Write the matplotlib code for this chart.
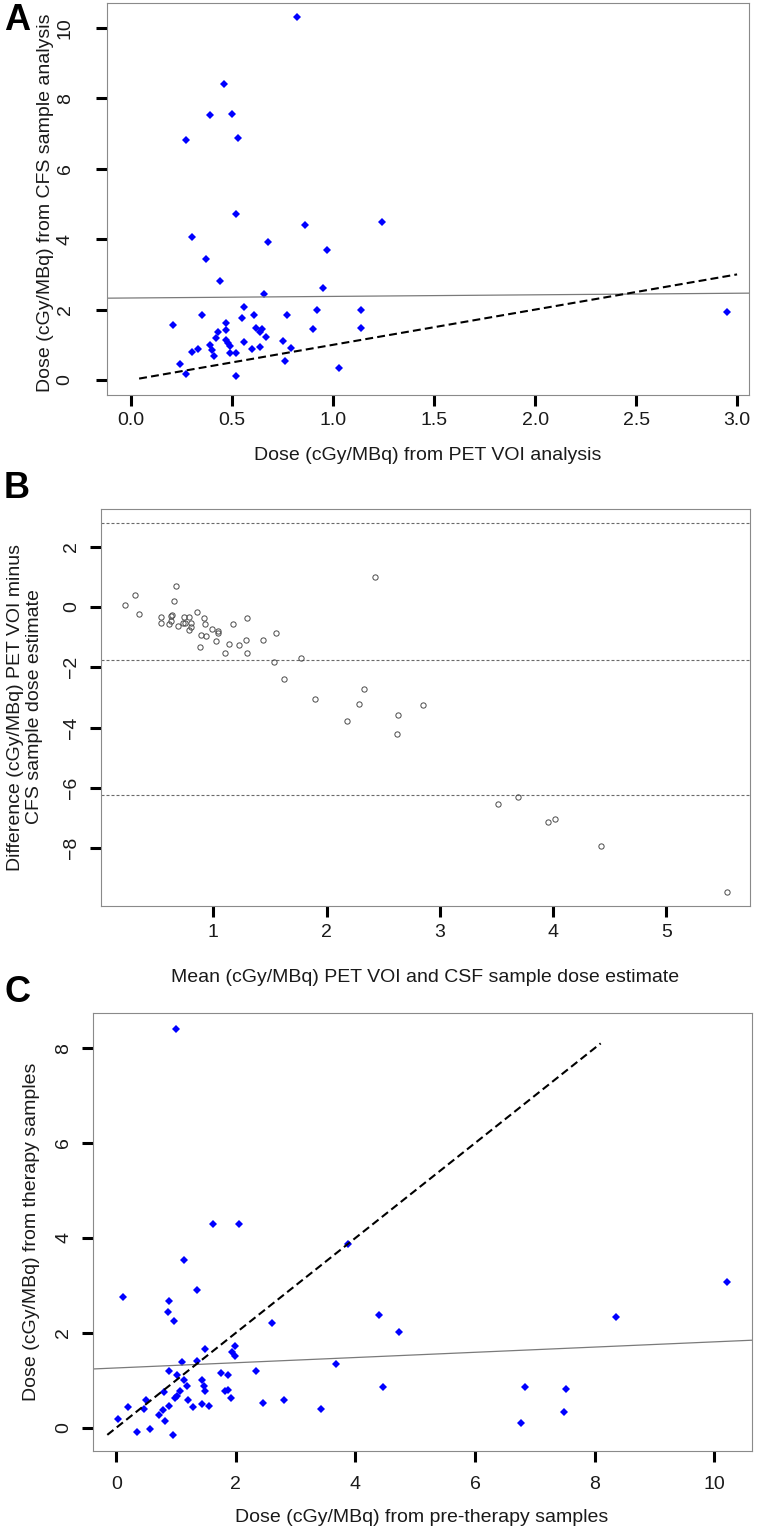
import numpy as np
import matplotlib
matplotlib.use("Agg")
import matplotlib.pyplot as plt

# Panel A: PET VOI dose vs CFS sample dose
pet_A = [0.82, 0.46, 0.39, 0.50, 0.27, 0.53, 0.52, 0.86, 1.24, 0.30,
         0.68, 0.97, 0.37, 0.44, 0.95, 0.66, 0.56, 0.35, 0.61, 0.77,
         0.92, 1.14, 0.21, 0.47, 0.55, 0.43, 0.47, 0.62, 0.65, 0.64,
         0.90, 1.14, 0.42, 0.47, 0.67, 0.75, 0.39, 0.48, 0.56, 0.49,
         0.33, 0.40, 0.60, 0.64, 0.79, 0.30, 0.49, 0.52, 0.41, 0.76,
         0.24, 1.03, 0.27, 0.52, 2.95]
csf_A = [10.3, 8.41, 7.54, 7.56, 6.81, 6.88, 4.73, 4.41, 4.48, 4.06,
         3.92, 3.70, 3.44, 2.81, 2.61, 2.45, 2.06, 1.86, 1.86, 1.84,
         1.98, 1.99, 1.56, 1.61, 1.75, 1.37, 1.41, 1.49, 1.44, 1.35,
         1.44, 1.49, 1.18, 1.15, 1.21, 1.10, 1.00, 1.06, 1.07, 0.97,
         0.89, 0.86, 0.89, 0.94, 0.92, 0.79, 0.77, 0.76, 0.68, 0.55,
         0.45, 0.33, 0.17, 0.11, 1.92]
fit_A = (2.33, 0.045)          # intercept, slope of solid line
ident_A = [0.04, 3.0]          # extent of dashed y = x line

# Panel B: Bland-Altman
mean_B = [0.22, 0.31, 0.34, 0.54, 0.54, 0.61, 0.63, 0.63, 0.64, 0.65,
          0.67, 0.69, 0.74, 0.73, 0.75, 0.79, 0.80, 0.80, 0.79, 0.86,
          0.92, 0.93, 0.89, 0.94, 0.88, 0.99, 1.04, 1.04, 1.02, 1.10,
          1.14, 1.17, 1.23, 1.29, 1.30, 1.30, 1.44, 1.55, 1.54, 1.77,
          1.62, 1.90, 2.43, 2.18, 2.29, 2.33, 2.63, 2.62, 2.85, 3.51,
          3.69, 3.95, 4.02, 4.42, 5.53]
diff_B = [0.07, 0.41, -0.24, -0.32, -0.53, -0.57, -0.46, -0.30, -0.28, 0.20,
          0.69, -0.63, -0.32, -0.53, -0.54, -0.34, -0.54, -0.68, -0.77, -0.17,
          -0.37, -0.55, -0.93, -0.96, -1.34, -0.73, -0.81, -0.88, -1.13, -1.53,
          -1.22, -0.57, -1.27, -1.09, -0.37, -1.53, -1.09, -0.86, -1.81, -1.68,
          -2.38, -3.06, 0.99, -3.78, -3.22, -2.73, -3.58, -4.21, -3.24, -6.52,
          -6.31, -7.14, -7.03, -7.94, -9.45]
limits_B = [2.77, -1.745, -6.25]   # upper LoA, mean difference, lower LoA

# Panel C: pre-therapy vs therapy samples
pre_C = [1.00, 1.61, 2.06, 3.88, 1.14, 1.35, 0.11, 0.89, 0.86, 0.96,
         2.60, 4.40, 4.72, 1.49, 1.98, 1.93, 1.98, 1.10, 1.35, 3.67,
         0.89, 1.02, 1.75, 1.86, 2.34, 1.14, 1.44, 1.19, 1.47, 4.46,
         0.79, 1.07, 1.49, 1.82, 1.86, 0.49, 1.01, 0.99, 1.92, 1.20,
         2.81, 0.20, 0.47, 0.89, 1.28, 1.43, 1.55, 2.45, 3.43, 0.78,
         0.71, 0.82, 0.03, 0.56, 0.34, 0.95, 8.36, 6.83, 7.52, 7.49,
         6.76, 10.22]
ther_C = [8.40, 4.30, 4.30, 3.88, 3.54, 2.91, 2.75, 2.67, 2.43, 2.26,
          2.21, 2.37, 2.01, 1.65, 1.72, 1.59, 1.52, 1.39, 1.41, 1.34,
          1.19, 1.11, 1.15, 1.12, 1.20, 1.01, 1.01, 0.87, 0.88, 0.86,
          0.75, 0.78, 0.77, 0.77, 0.80, 0.59, 0.67, 0.63, 0.63, 0.58,
          0.59, 0.43, 0.40, 0.46, 0.43, 0.50, 0.46, 0.52, 0.39, 0.37,
          0.27, 0.15, 0.18, -0.03, -0.09, -0.15, 2.33, 0.86, 0.81, 0.34,
          0.09, 3.08]
fit_C = (1.26, 0.055)
ident_C = [-0.15, 8.1]

W, H = 757, 1532
plt.rcParams['font.family'] = ['Liberation Sans', 'DejaVu Sans']

fig = plt.figure(figsize=(W / 100, H / 100), dpi=100)


# axes placed by pixel box (left, top, right, bottom)
def px_axes(l, t, r, b):
    return fig.add_axes([l / W, 1 - b / H, (r - l) / W, (b - t) / H])


def style(ax, xpad, ypad):
    for s in ax.spines.values():
        s.set_color("#8a8a8a")
        s.set_linewidth(0.8)
    ax.tick_params(direction="out", length=8, width=2.2, color="black",
                   labelsize=14, labelcolor="#1a1a1a")
    ax.tick_params(axis="x", pad=xpad)
    ax.tick_params(axis="y", pad=ypad, labelrotation=90)
    for lab in ax.get_yticklabels():
        lab.set_va("center")


def ftext(x, y, s, **kw):
    fig.text(x / W, 1 - y / H, s, ha="center", va="center", **kw)


blue = "#0000ff"

# ---- A ----
axA = px_axes(107, 3, 749, 395)
axA.plot(pet_A, csf_A, "D", color=blue, markersize=3.8, markeredgewidth=0)
axA.axline((0, fit_A[0]), slope=fit_A[1], color="#7a7a7a", lw=0.9)
axA.plot(ident_A, ident_A, color="black", lw=1.5, dashes=(3.8, 2))
axA.set_xlim(-0.119, 3.059)
axA.set_ylim(-0.426, 10.71)
axA.set_xticks(np.arange(0, 3.01, 0.5))
axA.set_xticklabels([f"{v:.1f}" for v in np.arange(0, 3.01, 0.5)])
axA.set_yticks([0, 2, 4, 6, 8, 10])
style(axA, 4, 16)

# ---- B ----
axB = px_axes(101, 509, 750, 906)
for v in limits_B:
    axB.axhline(v, color="#6a6a6a", lw=0.8, dashes=(2.7, 1.8))
axB.plot(mean_B, diff_B, "o", mfc="none", mec="#4a4a4a", markersize=3.8,
         markeredgewidth=0.7)
axB.set_xlim(0.009, 5.737)
axB.set_ylim(-9.92, 3.25)
axB.set_xticks([1, 2, 3, 4, 5])
axB.set_yticks([-8, -6, -4, -2, 0, 2])
style(axB, 5, 7)

# ---- C ----
axC = px_axes(93, 1013, 752, 1451)
axC.plot(pre_C, ther_C, "D", color=blue, markersize=3.8, markeredgewidth=0)
axC.axline((0, fit_C[0]), slope=fit_C[1], color="#7a7a7a", lw=0.9)
axC.plot(ident_C, ident_C, color="black", lw=1.5, dashes=(3.8, 2))
axC.set_xlim(-0.389, 10.63)
axC.set_ylim(-0.49, 8.74)
axC.set_xticks([0, 2, 4, 6, 8, 10])
axC.set_yticks([0, 2, 4, 6, 8])
style(axC, 10, 7)

# axis titles
lab = dict(fontsize=14, color="#1a1a1a")
ftext(428, 456, "Dose (cGy/MBq) from PET VOI analysis", **lab)
ftext(46, 203, "Dose (cGy/MBq) from CFS sample analysis", rotation=90, **lab)
ftext(425, 977, "Mean (cGy/MBq) PET VOI and CSF sample dose estimate", **lab)
ftext(25, 707, "Difference (cGy/MBq) PET VOI minus\nCFS sample dose estimate",
      rotation=90, linespacing=1.1, multialignment="center", **lab)
ftext(422, 1517, "Dose (cGy/MBq) from pre-therapy samples", **lab)
ftext(32, 1232, "Dose (cGy/MBq) from therapy samples", rotation=90, **lab)

# panel letters
letter = dict(fontsize=26, fontweight="bold",
              family=["Liberation Sans Narrow", "Liberation Sans", "DejaVu Sans"])
ftext(17, 20, "A", **letter)
ftext(17, 489, "B", **letter)
ftext(17, 992, "C", **letter)

fig.savefig("out.png", dpi=100)
